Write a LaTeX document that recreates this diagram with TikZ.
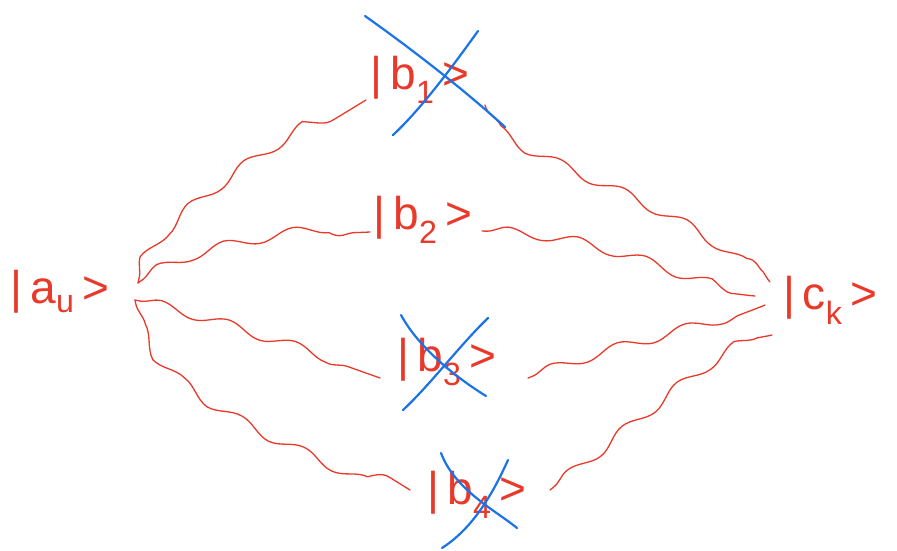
\documentclass[tikz,border=0pt]{standalone}
\usepackage{fontspec}
\setmainfont{Liberation Sans}
\usetikzlibrary{decorations.pathmorphing}
\definecolor{pen}{HTML}{E8392A}
\definecolor{cross}{HTML}{1A73E8}
\begin{document}
\begin{tikzpicture}[x=1pt,y=-1pt,
  ket/.style={text=pen,font=\fontsize{46}{52}\selectfont,inner sep=0pt},
  wave/.style={draw=pen,line width=1.3pt,line cap=round,
    decorate,decoration={snake,segment length=70pt,amplitude=5pt,pre length=4pt,post length=4pt}},
  strike/.style={draw=cross,line width=2.2pt,line cap=round}]
\useasboundingbox (0,0) rectangle (897,550);
% states
\node[ket] (a) at (60,292) {|\,a\textsubscript{u}\,>};
\node[ket] (c) at (830,300) {|\,c\textsubscript{k}\,>};
\node[ket] (b1) at (420,80) {|\,b\textsubscript{1}\,>};
\node[ket] (b2) at (423,220) {|\,b\textsubscript{2}\,>};
\node[ket] (b3) at (447,362) {|\,b\textsubscript{3}\,>};
\node[ket] (b4) at (477,495) {|\,b\textsubscript{4}\,>};
% path end points
\coordinate (a1) at (138,283);
\coordinate (a2) at (135,300);
\coordinate (c1) at (770,282);
\coordinate (c2) at (755,296);
\coordinate (c3) at (765,305);
\coordinate (c4) at (772,335);
\coordinate (b1l) at (366,100);
\coordinate (b1r) at (485,105);
\coordinate (b2l) at (370,232);
\coordinate (b2r) at (482,231);
\coordinate (b3l) at (380,378);
\coordinate (b3r) at (528,378);
\coordinate (b4l) at (410,490);
\coordinate (b4r) at (550,490);
% wavy paths
\draw[wave] (a1) .. controls (145,235) and (300,140) .. (b1l);
\draw[wave] (b1r) .. controls (490,140) and (700,190) .. (c1);
\draw[wave] (a1) .. controls (175,255) and (300,235) .. (b2l);
\draw[wave] (b2r) .. controls (600,235) and (680,290) .. (c2);
\draw[wave] (a2) .. controls (185,310) and (330,360) .. (b3l);
\draw[wave] (b3r) .. controls (600,350) and (720,325) .. (c3);
\draw[wave] (a2) .. controls (150,390) and (330,440) .. (b4l);
\draw[wave] (b4r) .. controls (640,420) and (720,345) .. (c4);
% crosses
\coordinate (x1a) at (365,16); \coordinate (x1b) at (505,127);
\coordinate (x1c) at (478,31); \coordinate (x1d) at (393,135);
\coordinate (x3a) at (401,315); \coordinate (x3b) at (486,396);
\coordinate (x3c) at (488,318); \coordinate (x3d) at (403,410);
\coordinate (x4a) at (441,453); \coordinate (x4b) at (517,528);
\coordinate (x4c) at (508,460); \coordinate (x4d) at (442,548);
\draw[strike] (x1a) .. controls (420,55) and (470,95) .. (x1b);
\draw[strike] (x1c) .. controls (450,70) and (420,110) .. (x1d);
\draw[strike] (x3a) .. controls (420,350) and (460,380) .. (x3b);
\draw[strike] (x3c) .. controls (460,345) and (430,385) .. (x3d);
\draw[strike] (x4a) .. controls (455,490) and (495,510) .. (x4b);
\draw[strike] (x4c) .. controls (490,500) and (470,530) .. (x4d);
\end{tikzpicture}
\end{document}
